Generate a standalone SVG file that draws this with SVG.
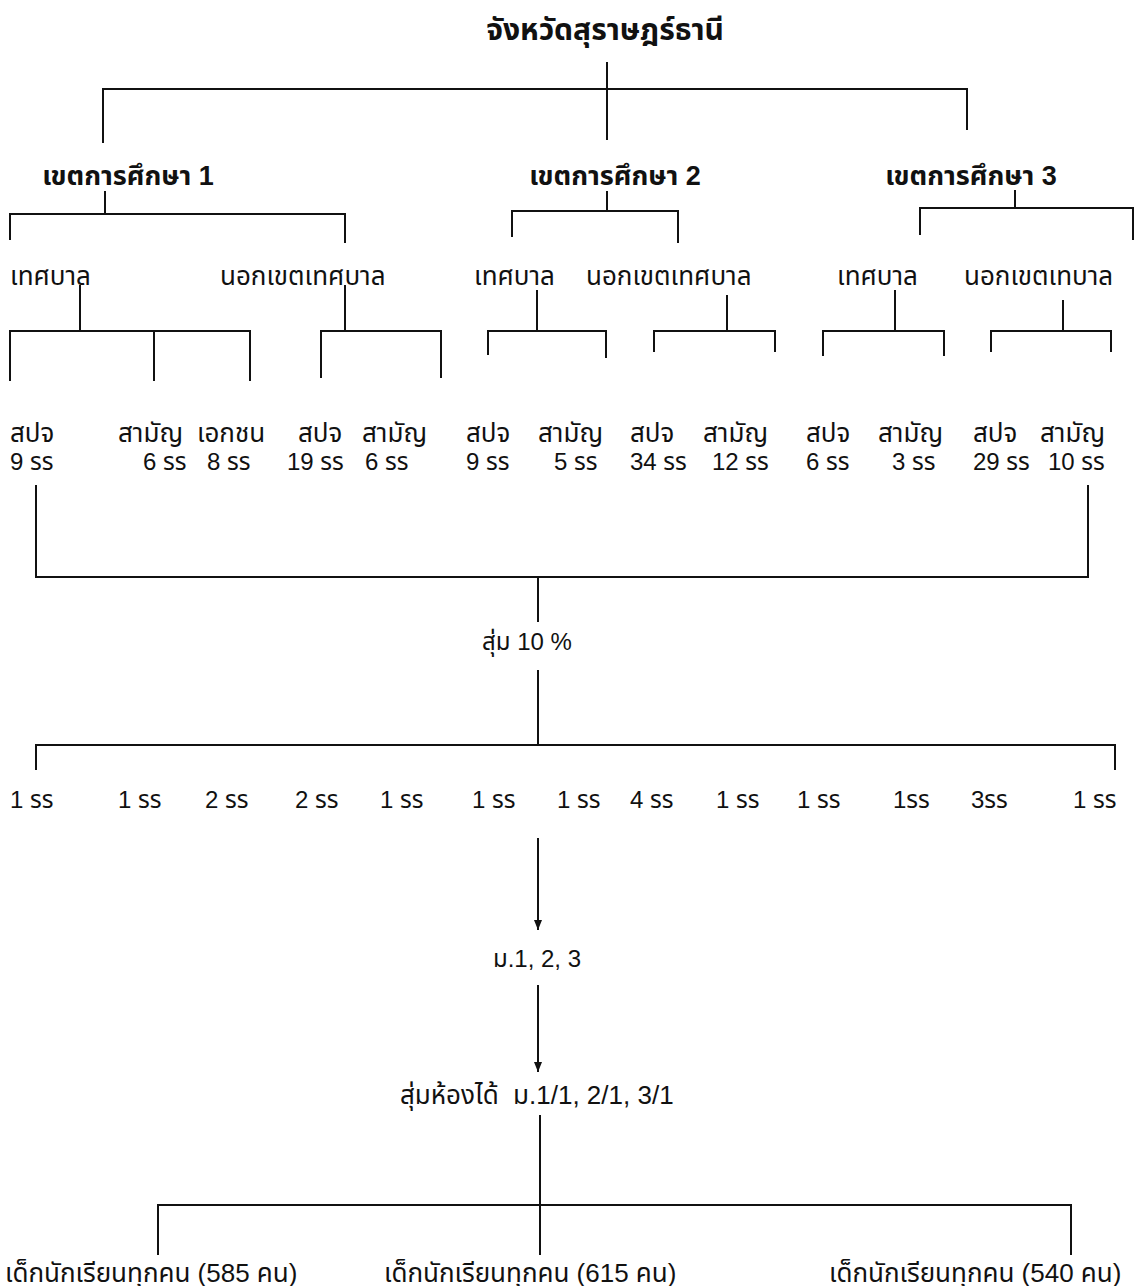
<svg xmlns="http://www.w3.org/2000/svg" width="1140" height="1286" viewBox="0 0 1140 1286">
<defs>
<style>
text{font-family:"Liberation Sans","Noto Sans Thai","DejaVu Sans",sans-serif;font-size:26px;fill:#111}
.b{font-weight:bold;font-size:27px}
.t{font-weight:bold;font-size:30px}
.n{font-size:24px}
.c{fill:none;stroke:#111;stroke-width:2}
</style>
<marker id="ah" markerWidth="10" markerHeight="8" refX="10" refY="4" orient="auto" markerUnits="userSpaceOnUse">
<path d="M0,0 L10,4 L0,8 Z" fill="#111"/>
</marker>
</defs>
<rect width="1140" height="1286" fill="#fff"/>
<g id="connectors" class="c">
<path class="c" d="M607,62 V140 M103,143 V89 H967 V130"/>
<path class="c" d="M105,191 V214 M10,240 V214 H345 V243"/>
<path class="c" d="M607,191 V211 M512,237 V211 H678 V243"/>
<path class="c" d="M1015,190 V208 M920,235 V208 H1133 V240"/>
<path class="c" d="M80,285 V331 M10,381 V331 H250 V381 M154,331 V381"/>
<path class="c" d="M345,285 V331 M321,378 V331 H441 V378"/>
<path class="c" d="M537,290 V331 M488,355 V331 H606 V358"/>
<path class="c" d="M727,295 V331 M654,352 V331 H775 V352"/>
<path class="c" d="M895,290 V331 M823,356 V331 H944 V356"/>
<path class="c" d="M1063,300 V331 M991,352 V331 H1111 V352"/>
<path class="c" d="M36,485 V577 H1088 V485 M538,577 V622"/>
<path class="c" d="M538,670 V745 M36,770 V745 H1115 V770"/>
<path class="c" d="M538,838 V930" marker-end="url(#ah)"/>
<path class="c" d="M538,985 V1072" marker-end="url(#ah)"/>
<path class="c" d="M540,1115 V1255 M158,1255 V1205 H1071 V1255"/>
</g>
<g id="n-province"><text class="t" x="605" y="40" text-anchor="middle">จังหวัดสุราษฎร์ธานี</text></g>
<g id="n-zone1"><text class="b" x="128" y="185" text-anchor="middle">เขตการศึกษา 1</text></g>
<g id="n-zone2"><text class="b" x="615" y="185" text-anchor="middle">เขตการศึกษา 2</text></g>
<g id="n-zone3"><text class="b" x="971" y="185" text-anchor="middle">เขตการศึกษา 3</text></g>
<g id="n-z1-muni"><text x="10" y="285">เทศบาล</text></g>
<g id="n-z1-out"><text x="220" y="285">นอกเขตเทศบาล</text></g>
<g id="n-z2-muni"><text x="474" y="285">เทศบาล</text></g>
<g id="n-z2-out"><text x="586" y="285">นอกเขตเทศบาล</text></g>
<g id="n-z3-muni"><text x="837" y="285">เทศบาล</text></g>
<g id="n-z3-out"><text x="964" y="285">นอกเขตเทบาล</text></g>
<g id="n-types">
<text x="10" y="442">สปจ</text>
<text x="118" y="442">สามัญ</text>
<text x="197" y="442">เอกชน</text>
<text x="298" y="442">สปจ</text>
<text x="362" y="442">สามัญ</text>
<text x="466" y="442">สปจ</text>
<text x="538" y="442">สามัญ</text>
<text x="630" y="442">สปจ</text>
<text x="703" y="442">สามัญ</text>
<text x="806" y="442">สปจ</text>
<text x="878" y="442">สามัญ</text>
<text x="973" y="442">สปจ</text>
<text x="1040" y="442">สามัญ</text>
</g>
<g id="n-counts" class="n">
<text class="n" x="10" y="470">9 รร</text>
<text class="n" x="143" y="470">6 รร</text>
<text class="n" x="207" y="470">8 รร</text>
<text class="n" x="287" y="470">19 รร</text>
<text class="n" x="365" y="470">6 รร</text>
<text class="n" x="466" y="470">9 รร</text>
<text class="n" x="554" y="470">5 รร</text>
<text class="n" x="630" y="470">34 รร</text>
<text class="n" x="712" y="470">12 รร</text>
<text class="n" x="806" y="470">6 รร</text>
<text class="n" x="892" y="470">3 รร</text>
<text class="n" x="973" y="470">29 รร</text>
<text class="n" x="1048" y="470">10 รร</text>
</g>
<g id="n-sample"><text class="n" x="482" y="650">สุ่ม 10 %</text></g>
<g id="n-sampled">
<text class="n" x="10" y="808">1 รร</text>
<text class="n" x="118" y="808">1 รร</text>
<text class="n" x="205" y="808">2 รร</text>
<text class="n" x="295" y="808">2 รร</text>
<text class="n" x="380" y="808">1 รร</text>
<text class="n" x="472" y="808">1 รร</text>
<text class="n" x="557" y="808">1 รร</text>
<text class="n" x="630" y="808">4 รร</text>
<text class="n" x="716" y="808">1 รร</text>
<text class="n" x="797" y="808">1 รร</text>
<text class="n" x="893" y="808">1รร</text>
<text class="n" x="971" y="808">3รร</text>
<text class="n" x="1073" y="808">1 รร</text>
</g>
<g id="n-grades"><text class="n" x="537" y="967" text-anchor="middle">ม.1, 2, 3</text></g>
<g id="n-rooms"><text x="400" y="1104" xml:space="preserve">สุ่มห้องได้  ม.1/1, 2/1, 3/1</text></g>
<g id="n-s1"><text x="5" y="1282">เด็กนักเรียนทุกคน (585 คน)</text></g>
<g id="n-s2"><text x="384" y="1282">เด็กนักเรียนทุกคน (615 คน)</text></g>
<g id="n-s3"><text x="829" y="1282">เด็กนักเรียนทุกคน (540 คน)</text></g>
</svg>
